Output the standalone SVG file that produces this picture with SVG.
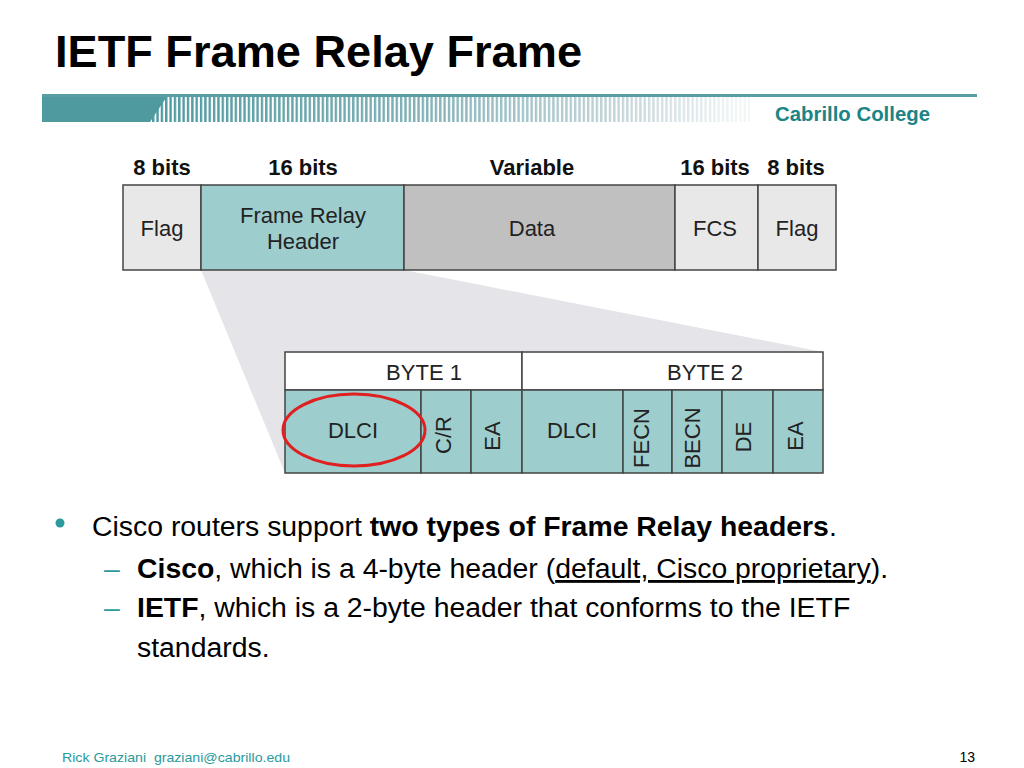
<svg xmlns="http://www.w3.org/2000/svg" width="1024" height="768" viewBox="0 0 1024 768">
<style>
  .sans { font-family: "Liberation Sans", Arial, sans-serif; }
  .lbl { font-family: "Liberation Sans", Arial, sans-serif; font-size: 22px; fill: #222; text-anchor: middle; }
  .bits { font-family: "Liberation Sans", Arial, sans-serif; font-size: 22px; font-weight: bold; fill: #111; text-anchor: middle; }
  .cell { stroke: #444; stroke-width: 1.5; }
  .gray { fill: #e8e8e8; }
  .teal { fill: #9dcdcd; }
  .data { fill: #c0c0c0; }
  .body { font-family: "Liberation Sans", Arial, sans-serif; font-size: 28.4px; fill: #000; }
  .mark { fill: #2a9a9c; }
</style>
<defs>
  <linearGradient id="fade" gradientUnits="userSpaceOnUse" x1="150" y1="0" x2="740" y2="0">
    <stop offset="0" stop-color="#4c999e"/>
    <stop offset="0.45" stop-color="#7fb0b6"/>
    <stop offset="0.8" stop-color="#c4d6da"/>
    <stop offset="1" stop-color="#f2f6f7"/>
  </linearGradient>
  <pattern id="stripes" patternUnits="userSpaceOnUse" x="152" y="0" width="4.35" height="30">
    <rect x="0" y="0" width="2.4" height="30" fill="#fff"/>
  </pattern>
  <mask id="stripeMask" maskUnits="userSpaceOnUse" x="0" y="0" width="1024" height="768">
    <rect x="150" y="97" width="600" height="25" fill="url(#stripes)"/>
  </mask>
</defs>
<rect width="1024" height="768" fill="#fff"/>

<!-- Title -->
<text x="55" y="67" class="sans" font-size="45" font-weight="bold" fill="#000" textLength="527" lengthAdjust="spacingAndGlyphs">IETF Frame Relay Frame</text>

<!-- Header bar -->
<g id="banner">
  <rect x="150" y="97" width="600" height="25" fill="url(#fade)" mask="url(#stripeMask)"/>
  <polygon points="42,95 168,95 150,122 42,122" fill="#4f9a9f"/>
  <rect x="42" y="94" width="935" height="3" fill="#5a9ea4"/>
  <text x="775" y="121" class="sans" font-size="20" font-weight="bold" fill="#1b8486" textLength="155" lengthAdjust="spacingAndGlyphs">Cabrillo College</text>
</g>

<!-- Connectors (projection of header) -->
<g id="connectors">
  <polygon points="201,270 404,270 823,352 285,473" fill="#e5e5e9"/>
</g>

<!-- Frame -->
<g id="frame-bits">
  <text x="162" y="175" class="bits">8 bits</text>
  <text x="303" y="175" class="bits">16 bits</text>
  <text x="532" y="175" class="bits">Variable</text>
  <text x="715" y="175" class="bits">16 bits</text>
  <text x="796" y="175" class="bits">8 bits</text>
</g>
<g id="flag1">
  <rect x="123" y="185" width="78" height="85" class="cell gray"/>
  <text x="162" y="236" class="lbl">Flag</text>
</g>
<g id="fr-header">
  <rect x="201" y="185" width="203" height="85" class="cell teal"/>
  <text x="303" y="223" class="lbl">Frame Relay</text>
  <text x="303" y="249" class="lbl">Header</text>
</g>
<g id="data">
  <rect x="404" y="185" width="271" height="85" class="cell data"/>
  <text x="532" y="236" class="lbl">Data</text>
</g>
<g id="fcs">
  <rect x="675" y="185" width="83" height="85" class="cell gray"/>
  <text x="715" y="236" class="lbl">FCS</text>
</g>
<g id="flag2">
  <rect x="758" y="185" width="78" height="85" class="cell gray"/>
  <text x="797" y="236" class="lbl">Flag</text>
</g>

<!-- Header detail -->
<g id="byte1">
  <rect x="285" y="352" width="237" height="38" class="cell" fill="#fff"/>
  <text x="424" y="380" class="lbl">BYTE 1</text>
</g>
<g id="byte2">
  <rect x="522" y="352" width="301" height="38" class="cell" fill="#fff"/>
  <text x="705" y="380" class="lbl">BYTE 2</text>
</g>
<g id="dlci1">
  <rect x="285" y="390" width="136" height="83" class="cell teal"/>
  <text x="353" y="438" class="lbl">DLCI</text>
</g>
<g id="cr">
  <rect x="421" y="390" width="50" height="83" class="cell teal"/>
  <text transform="translate(451,435) rotate(-90)" class="lbl">C/R</text>
</g>
<g id="ea1">
  <rect x="471" y="390" width="51" height="83" class="cell teal"/>
  <text transform="translate(500,436) rotate(-90)" class="lbl">EA</text>
</g>
<g id="dlci2">
  <rect x="522" y="390" width="101" height="83" class="cell teal"/>
  <text x="572" y="438" class="lbl">DLCI</text>
</g>
<g id="fecn">
  <rect x="623" y="390" width="49" height="83" class="cell teal"/>
  <text transform="translate(649,438) rotate(-90)" class="lbl">FECN</text>
</g>
<g id="becn">
  <rect x="672" y="390" width="50" height="83" class="cell teal"/>
  <text transform="translate(700,438) rotate(-90)" class="lbl">BECN</text>
</g>
<g id="de">
  <rect x="722" y="390" width="51" height="83" class="cell teal"/>
  <text transform="translate(751,437) rotate(-90)" class="lbl">DE</text>
</g>
<g id="ea2">
  <rect x="773" y="390" width="50" height="83" class="cell teal"/>
  <text transform="translate(803,436) rotate(-90)" class="lbl">EA</text>
</g>
<g id="highlight">
  <ellipse cx="354" cy="430" rx="71" ry="36" fill="none" stroke="#e02020" stroke-width="3"/>
</g>

<!-- Body text -->
<g id="bullets">
  <circle cx="60" cy="523" r="4.5" class="mark"/>
  <text x="92" y="536" class="body">Cisco routers support <tspan font-weight="bold">two types of Frame Relay headers</tspan>.</text>
  <text x="104" y="578" class="body mark">–</text>
  <text x="137" y="578" class="body"><tspan font-weight="bold">Cisco</tspan>, which is a 4-byte header (<tspan text-decoration="underline">default, Cisco proprietary</tspan>).</text>
  <text x="104" y="617" class="body mark">–</text>
  <text x="137" y="617" class="body"><tspan font-weight="bold">IETF</tspan>, which is a 2-byte header that conforms to the IETF</text>
  <text x="137" y="657" class="body">standards.</text>
</g>

<!-- Footer -->
<text x="62" y="762" class="sans" font-size="13" fill="#2a9a9c" textLength="228" lengthAdjust="spacingAndGlyphs">Rick Graziani&#160; graziani@cabrillo.edu</text>
<text x="975" y="762" class="sans" font-size="14" fill="#000" text-anchor="end">13</text>
</svg>
